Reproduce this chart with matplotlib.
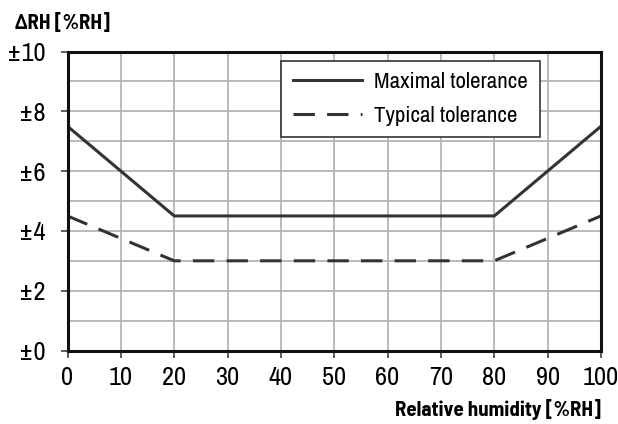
import matplotlib
matplotlib.use("Agg")
import matplotlib.pyplot as plt
from matplotlib import font_manager
from matplotlib.ticker import MultipleLocator, FuncFormatter

names = {f.name for f in font_manager.fontManager.ttflist}
def pick(*cands):
    for c in cands:
        if c in names:
            return c
    return "Liberation Sans"
FONT = pick("Archivo Narrow", "Barlow Semi Condensed", "Liberation Sans")
BFONT = pick("Barlow Semi Condensed", "Archivo Narrow", "Liberation Sans")
plt.rcParams["font.family"] = [FONT, "DejaVu Sans"]

rh = [0, 20, 80, 100]
maximal = [7.5, 4.5, 4.5, 7.5]
typical = [4.5, 3.0, 3.0, 4.5]
x_ticks = [0, 10, 20, 30, 40, 50, 60, 70, 80, 90, 100]
y_ticks = [0, 2, 4, 6, 8, 10]

fig = plt.figure(figsize=(6.18, 4.24), dpi=100)
ax = fig.add_axes([67.5/618, 1-350.5/424, (601-67.5)/618, (350.5-51.5)/424])
c = "#333333"
ax.plot(rh, maximal, color=c, lw=2.2, label="Maximal tolerance")
ax.plot(rh, typical, color=c, lw=2.2, ls=(0, (7, 4)), label="Typical tolerance")
ax.set_xlim(0, 100)
ax.set_ylim(0, 10)
ax.set_xticks(x_ticks)
ax.set_yticks(y_ticks)
ax.yaxis.set_minor_locator(MultipleLocator(1))
ax.yaxis.set_major_formatter(FuncFormatter(lambda v, p: "±%d" % v))
ax.grid(True, which="both", color="#b4b4b4", lw=1.3)
ax.set_axisbelow(True)
for s in ax.spines.values():
    s.set_linewidth(2.2)
    s.set_color("#111111")
ax.tick_params(axis="both", which="major", labelsize=19, direction="out", length=5, width=1.2, color="#444444")
ax.tick_params(axis="x", pad=6)
ax.tick_params(axis="y", pad=10.5)
ax.tick_params(axis="y", which="minor", length=0)
fig.text(15/618, 1-23/424, "ΔRH [%RH]", fontsize=15, fontweight="bold", va="center", ha="left",
         family=[BFONT, "DejaVu Sans"])
fig.text(601/618, 1-410/424, "Relative humidity [%RH]", fontsize=15, fontweight="bold", va="center", ha="right",
         family=[BFONT, "DejaVu Sans"])
leg = ax.legend(loc="upper right", bbox_to_anchor=(539.5/618, 1-60.5/424), bbox_transform=fig.transFigure,
                fontsize=16.5, handlelength=3.0, frameon=True, fancybox=False, borderpad=0.5,
                labelspacing=0.6, handletextpad=0.55, borderaxespad=0)
leg.get_frame().set_edgecolor("#333333")
leg.get_frame().set_linewidth(1.2)
leg.get_frame().set_alpha(1)
fig.savefig("out.png", dpi=100)
